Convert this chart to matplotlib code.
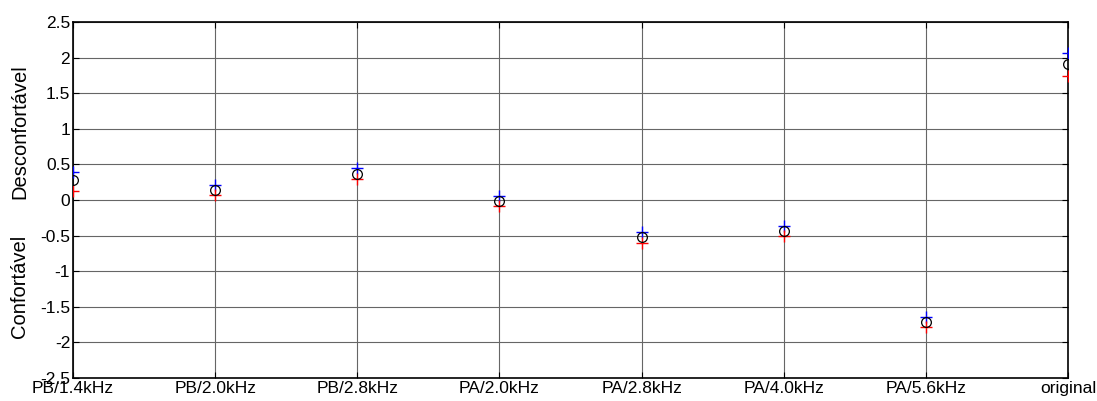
import numpy as np
import matplotlib.pyplot as plt

plt.rcParams['font.family'] = ['Liberation Sans', 'DejaVu Sans']

categories = ['PB/1.4kHz', 'PB/2.0kHz', 'PB/2.8kHz', 'PA/2.0kHz',
              'PA/2.8kHz', 'PA/4.0kHz', 'PA/5.6kHz', 'original']
mean_vals = [0.28, 0.145, 0.37, -0.01, -0.52, -0.43, -1.71, 1.91]
upper_vals = [0.40, 0.21, 0.45, 0.06, -0.45, -0.36, -1.64, 2.06]
lower_vals = [0.13, 0.075, 0.29, -0.09, -0.61, -0.51, -1.78, 1.74]
yticks = [-2.5, -2, -1.5, -1, -0.5, 0, 0.5, 1, 1.5, 2, 2.5]

x = np.arange(1, len(categories) + 1)

fig = plt.figure(figsize=(10.97, 4.01), dpi=100)
ax = fig.add_axes([73/1097, 23/401, 995/1097, 356/401])

ax.grid(True, color='#666666', linewidth=0.8, linestyle='-')
ax.set_axisbelow(True)

ax.plot(x, upper_vals, '+', color='blue', markersize=8, mew=1.0, zorder=3)
ax.plot(x, lower_vals, '+', color='red', markersize=8, mew=1.0, zorder=3)
ax.plot(x, mean_vals, 'o', mfc='none', mec='black', markersize=7, mew=0.9, zorder=4)

ax.set_xlim(1, 8)
ax.set_ylim(-2.5, 2.5)
ax.set_xticks(x)
ax.set_xticklabels(categories, fontsize=12.5)
ax.set_yticks(yticks)
ax.set_yticklabels([('%g' % v) for v in yticks], fontsize=12.5)
ax.tick_params(direction='in', top=True, right=True, length=4, width=0.8, pad=2)
for sp in ax.spines.values():
    sp.set_linewidth(1.2)

fig.text(20/1097, 1 - 132/401, 'Desconfortável', rotation=90,
         ha='center', va='center', fontsize=14.5)
fig.text(20/1097, 1 - 286/401, 'Confortável', rotation=90,
         ha='center', va='center', fontsize=14.5)

fig.savefig('out.png', dpi=100)
